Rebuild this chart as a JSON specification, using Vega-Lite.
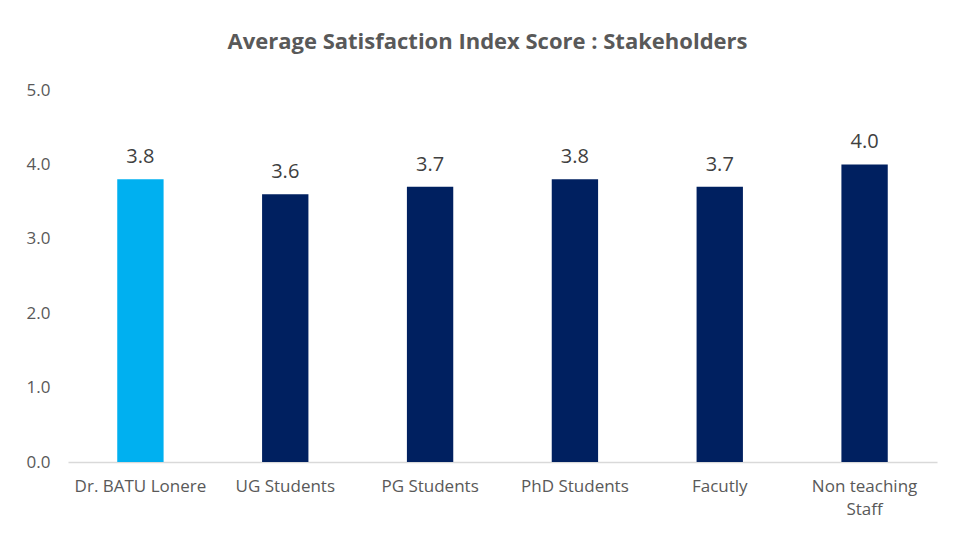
{
  "$schema": "https://vega.github.io/schema/vega-lite/v6.json",
  "autosize": {"type": "none"},
  "width": 869,
  "height": 372,
  "padding": {"left": 68, "top": 90, "right": 23, "bottom": 78},
  "background": "white",
  "config": {"view": {"stroke": null}, "font": "Open Sans"},
  "title": {
    "text": "Average Satisfaction Index Score : Stakeholders",
    "fontSize": 22,
    "fontWeight": "bold",
    "color": "#595959",
    "anchor": "middle",
    "offset": 27,
    "dx": -15,
    "font": "Open Sans"
  },
  "data": {
    "values": [
      {"group": "Dr. BATU Lonere", "score": 3.8, "highlight": "yes"},
      {"group": "UG Students", "score": 3.6, "highlight": "no"},
      {"group": "PG Students", "score": 3.7, "highlight": "no"},
      {"group": "PhD Students", "score": 3.8, "highlight": "no"},
      {"group": "Facutly", "score": 3.7, "highlight": "no"},
      {"group": "Non teaching Staff", "score": 4.0, "highlight": "no"}
    ]
  },
  "encoding": {
    "x": {
      "field": "group",
      "type": "nominal",
      "sort": null,
      "scale": {"paddingInner": 0.68, "paddingOuter": 0.34},
      "axis": {
        "title": null,
        "labelAngle": 0,
        "labelFontSize": 17,
        "labelColor": "#595959",
        "labelPadding": 16,
        "ticks": false,
        "domainColor": "#D9D9D9",
        "domainWidth": 1.5,
        "labelLimit": 200,
        "labelLineHeight": 23,
        "labelExpr": "datum.value == 'Non teaching Staff' ? ['Non teaching', 'Staff'] : datum.value"
      }
    },
    "y": {
      "field": "score",
      "type": "quantitative",
      "scale": {"domain": [0, 5]},
      "axis": {
        "title": null,
        "values": [0, 1, 2, 3, 4, 5],
        "format": ".1f",
        "grid": false,
        "domain": false,
        "ticks": false,
        "labelFontSize": 17,
        "labelColor": "#595959",
        "labelPadding": 18
      }
    }
  },
  "layer": [
    {
      "mark": {"type": "bar"},
      "encoding": {
        "color": {
          "field": "highlight",
          "type": "nominal",
          "scale": {"domain": ["yes", "no"], "range": ["#00B0F0", "#002060"]},
          "legend": null
        }
      }
    },
    {
      "mark": {"type": "text", "dy": -22, "fontSize": 20, "color": "#404040"},
      "encoding": {
        "text": {"field": "score", "type": "quantitative", "format": ".1f"}
      }
    }
  ]
}
